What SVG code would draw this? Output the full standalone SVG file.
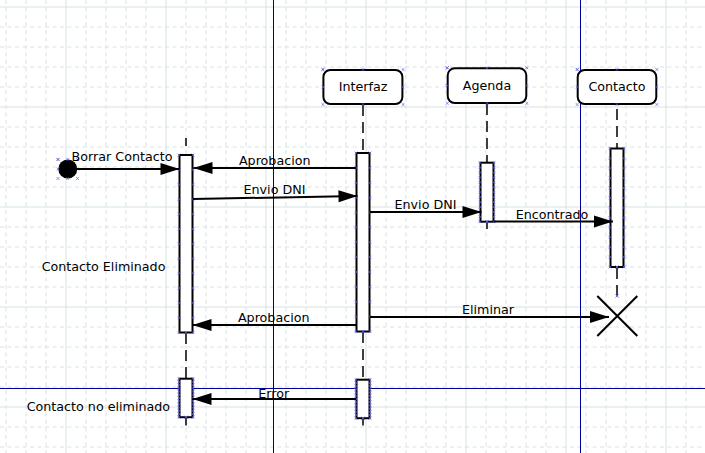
<svg xmlns="http://www.w3.org/2000/svg" width="705" height="453" viewBox="0 0 705 453">
<style>
text{font-family:"DejaVu Sans","Noto Sans",sans-serif;font-size:12.7px;fill:#000}
.gd{stroke:#d5e3e1;stroke-width:1;stroke-dasharray:4,3.5;fill:none}
.gs{stroke:#d5e3e1;stroke-width:1;fill:none}
.guide{stroke:#000099;stroke-width:1;fill:none}
.box{fill:#fff;stroke:#000;stroke-width:2}
.bar{fill:#fff;stroke:#000;stroke-width:2}
.life{stroke:#000;stroke-width:1.5;stroke-dasharray:11,6;fill:none}
.msg{stroke:#000;stroke-width:2;fill:none;marker-end:url(#arr)}
.cp{fill:none;stroke:none;marker-start:url(#cp);marker-mid:url(#cp);marker-end:url(#cp)}
.m{text-anchor:middle}
</style>
<defs>
<marker id="arr" markerUnits="userSpaceOnUse" markerWidth="20" markerHeight="14" refX="19" refY="6" orient="auto" overflow="visible">
<path d="M0,0 L19,6 L0,12 z" fill="#000"/>
</marker>
<marker id="cp" markerUnits="userSpaceOnUse" markerWidth="6" markerHeight="6" refX="3" refY="3" overflow="visible">
<path d="M1.6,1.6 L4.4,4.4 M4.4,1.6 L1.6,4.4" stroke="#5c5cf0" stroke-width="0.7" fill="none"/>
</marker>
</defs>
<rect width="705" height="453" fill="#fff"/>
<g id="grid">
<path class="gd" d="M6 0V453M26 0V453M46 0V453M86 0V453M106 0V453M126 0V453M146 0V453M186 0V453M206 0V453M226 0V453M246 0V453M286 0V453M306 0V453M326 0V453M346 0V453M386 0V453M406 0V453M426 0V453M446 0V453M486 0V453M506 0V453M526 0V453M546 0V453M586 0V453M606 0V453M626 0V453M646 0V453M686 0V453"/>
<path class="gd" d="M0 27H705M0 47H705M0 67H705M0 87H705M0 127H705M0 147H705M0 167H705M0 187H705M0 227H705M0 247H705M0 267H705M0 287H705M0 327H705M0 347H705M0 367H705M0 387H705M0 427H705M0 447H705"/>
<path class="gs" d="M66 0V453M166 0V453M266 0V453M366 0V453M466 0V453M566 0V453M666 0V453M0 7H705M0 107H705M0 207H705M0 307H705M0 407H705"/>
</g>
<g id="guides">
<path class="guide" d="M273.5 0V453M580.5 0V453M0 388.5H705"/>
</g>
<g id="lifelines">
<path d="M186 138V146" stroke="#000" stroke-width="1.5"/>
<path class="life" d="M363 105V153"/>
<path class="life" d="M487 104V162"/>
<path class="life" d="M617 105V148" stroke-dashoffset="-4"/>
<path class="life" d="M186 333V378"/>
<path class="life" d="M363 332V379"/>
<path class="life" d="M617 268V296"/>
<path d="M186 418V425.5M363 419V425.5M487 222V229" stroke="#000" stroke-width="1.5"/>
</g>
<g id="start">
<circle cx="67.8" cy="169" r="9.5" fill="#000"/>
<path class="cp" d="M58 159.5H67.8H77.5V169V178.5H67.8H58V169z"/>
</g>
<g id="interfaz">
<rect class="box" x="323.4" y="70" width="79" height="34" rx="7"/>
<text class="m" x="363" y="91">Interfaz</text>
<path class="cp" d="M322.9 69.5H363H403.1V87V104.5H363H322.9V87z"/>
</g>
<g id="agenda">
<rect class="box" x="447.7" y="68.3" width="78.6" height="34.7" rx="7"/>
<text class="m" x="487" y="89.5">Agenda</text>
<path class="cp" d="M447.2 67.8H487H526.8V85.6V103.4H487H447.2V85.6z"/>
</g>
<g id="contacto">
<rect class="box" x="577.7" y="70" width="78.6" height="34" rx="7"/>
<text class="m" x="617" y="91">Contacto</text>
<path class="cp" d="M577.2 69.5H617H656.8V87V104.5H617H577.2V87z"/>
</g>
<g id="act-usuario">
<rect class="bar" x="179.5" y="155" width="13" height="177.5"/>
<path class="cp" d="M179 155v14.79v14.79v14.79v14.79v14.79v14.79v14.79v14.79v14.79v14.79v14.79v14.79"/>
<path class="cp" d="M193 155v14.79v14.79v14.79v14.79v14.79v14.79v14.79v14.79v14.79v14.79v14.79v14.79"/>
<path class="cp" d="M186 332.5h0.01"/>
</g>
<g id="act-interfaz">
<rect class="bar" x="356.5" y="153" width="13" height="178.5"/>
<path class="cp" d="M356 153v14.875v14.875v14.875v14.875v14.875v14.875v14.875v14.875v14.875v14.875v14.875v14.875"/>
<path class="cp" d="M370 153v14.875v14.875v14.875v14.875v14.875v14.875v14.875v14.875v14.875v14.875v14.875v14.875"/>
<path class="cp" d="M363 331.5h0.01"/>
</g>
<g id="act-agenda">
<rect class="bar" x="480.5" y="162.7" width="13" height="59"/>
<path class="cp" d="M480 162.7v4.92v4.92v4.92v4.92v4.92v4.92v4.92v4.92v4.92v4.92v4.92v4.92"/>
<path class="cp" d="M494 162.7v4.92v4.92v4.92v4.92v4.92v4.92v4.92v4.92v4.92v4.92v4.92v4.92"/>
<path class="cp" d="M487 221.7h0.01"/>
</g>
<g id="act-contacto">
<rect class="bar" x="610.5" y="148.5" width="13" height="118.5"/>
<path class="cp" d="M610 148.5v9.875v9.875v9.875v9.875v9.875v9.875v9.875v9.875v9.875v9.875v9.875v9.875"/>
<path class="cp" d="M624 148.5v9.875v9.875v9.875v9.875v9.875v9.875v9.875v9.875v9.875v9.875v9.875v9.875"/>
<path class="cp" d="M617 267h0.01"/>
</g>
<g id="act-usuario-2">
<rect class="bar" x="179.5" y="378.7" width="13" height="38.5"/>
<path class="cp" d="M179 378.7v3.21v3.21v3.21v3.21v3.21v3.21v3.21v3.21v3.21v3.21v3.21v3.21"/>
<path class="cp" d="M193 378.7v3.21v3.21v3.21v3.21v3.21v3.21v3.21v3.21v3.21v3.21v3.21v3.21"/>
<path class="cp" d="M186 417.2h0.01"/>
</g>
<g id="act-interfaz-2">
<rect class="bar" x="356.5" y="379.7" width="13" height="38.5"/>
<path class="cp" d="M356 379.7v3.21v3.21v3.21v3.21v3.21v3.21v3.21v3.21v3.21v3.21v3.21v3.21"/>
<path class="cp" d="M370 379.7v3.21v3.21v3.21v3.21v3.21v3.21v3.21v3.21v3.21v3.21v3.21v3.21"/>
<path class="cp" d="M363 418.2h0.01"/>
</g>
<g id="destroy">
<path d="M597.3 296L637.3 336M637.3 296L597.3 336" stroke="#000" stroke-width="2"/>
<path class="cp" d="M617 296h0.01"/>
</g>
<g id="connectors">
<path class="msg" d="M68 169H179.5"/>
<path class="msg" d="M356 168H193.5"/>
<path class="msg" d="M193 199L357.5 196"/>
<path class="msg" d="M370 212H481.5"/>
<path class="msg" d="M494 221.5H613"/>
<path class="msg" d="M356 325H192.5"/>
<path class="msg" d="M370 317H609"/>
<path class="msg" d="M356 399H192.5"/>
</g>
<g id="labels">
<text class="m" x="122" y="161">Borrar Contacto</text>
<text class="m" x="274.7" y="165">Aprobacion</text>
<text class="m" x="274.5" y="194">Envio DNI</text>
<text class="m" x="425.5" y="209">Envio DNI</text>
<text class="m" x="552" y="219">Encontrado</text>
<text class="m" x="273.7" y="322">Aprobacion</text>
<text class="m" x="488" y="314">Eliminar</text>
<text class="m" x="273.7" y="398">Error</text>
<text x="41.7" y="271">Contacto Eliminado</text>
<text x="26.7" y="411">Contacto no eliminado</text>
</g>
</svg>
